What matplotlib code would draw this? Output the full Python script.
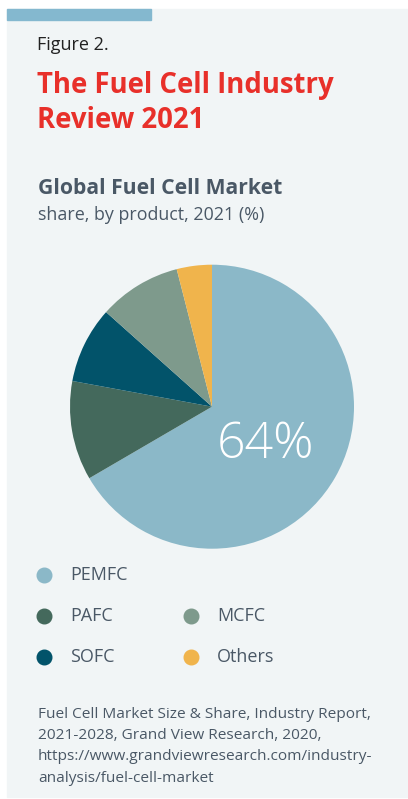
import matplotlib.pyplot as plt
from matplotlib.patches import Rectangle

W, H = 408, 799

products = ["PEMFC", "PAFC", "SOFC", "MCFC", "Others"]
shares = [66.6, 11.3, 8.7, 9.4, 4.0]
colors = ["#8bb8c8", "#44695c", "#02536a", "#7e9a8c", "#f0b44c"]
big_label = "64%"

title_lines = ["The Fuel Cell Industry", "Review 2021"]
source_lines = ["Fuel Cell Market Size & Share, Industry Report,",
                "2021-2028, Grand View Research, 2020,",
                "https://www.grandviewresearch.com/industry-",
                "analysis/fuel-cell-market"]

plt.rcParams['font.family'] = ['Open Sans', 'DejaVu Sans']

fig = plt.figure(figsize=(W / 100, H / 100), dpi=100)
fig.patch.set_facecolor("white")


def fx(x):
    return x / W


def fy(y):
    return 1 - y / H


# panel + top accent bar
fig.add_artist(Rectangle((fx(7), fy(797)), fx(W - 7), (797 - 9) / H,
                         transform=fig.transFigure, color="#f1f5f6", zorder=0))
fig.add_artist(Rectangle((fx(7), fy(20)), fx(144), 11 / H,
                         transform=fig.transFigure, color="#84b8cf", zorder=1))

txt = "#4a5866"
fig.text(fx(37), fy(50), "Figure 2.", fontsize=13, color="#222222", va="baseline")
for i, line in enumerate(title_lines):
    fig.text(fx(37), fy(92.5 + 35 * i), line, fontsize=19.8, fontweight="bold",
             color="#e8302a", va="baseline")
fig.text(fx(38), fy(194), "Global Fuel Cell Market", fontsize=15.2, fontweight="bold",
         color=txt, va="baseline")
fig.text(fx(38), fy(220), "share, by product, 2021 (%)", fontsize=12.9,
         color=txt, va="baseline")

# pie
r = 142
cx, cy = 212, 406.7
ax = fig.add_axes([fx(cx - r), fy(cy + r), 2 * r / W, 2 * r / H])
ax.pie(shares, colors=colors, startangle=90, counterclock=False,
       wedgeprops=dict(linewidth=0))
ax.set_xlim(-1, 1)
ax.set_ylim(-1, 1)
ax.text(0.38, -0.27, big_label, fontsize=36, fontweight="light", color="white",
        ha="center", va="center")

# legend
legend_pos = [(44, 575), (44, 616), (44, 657), (191, 616), (191, 657)]
for (px, py), name, c in zip(legend_pos, products, colors):
    fig.lines.append(plt.Line2D([fx(px)], [fy(py)], marker="o", markersize=10.5,
                                color=c, transform=fig.transFigure))
    fig.text(fx(px + 26), fy(py), name, fontsize=13, color=txt, va="center")

for i, line in enumerate(source_lines):
    fig.text(fx(38), fy(718 + 21.2 * i), line, fontsize=11.1, color=txt,
             va="baseline")

fig.savefig("out.png", dpi=100)
